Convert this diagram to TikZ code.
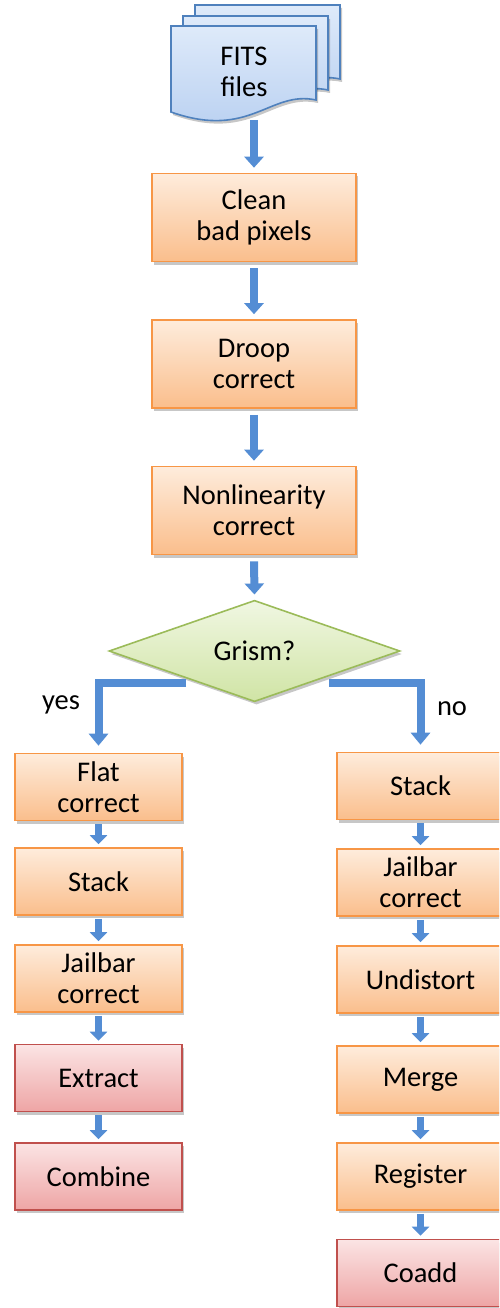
\documentclass[tikz,border=0pt]{standalone}
\usepackage{fontspec}
\setmainfont{Carlito}
\usetikzlibrary{arrows.meta,shapes.geometric,shadows}
\definecolor{orgB}{RGB}{247,150,70}
\definecolor{orgT}{RGB}{254,236,220}
\definecolor{orgD}{RGB}{250,190,140}
\definecolor{redB}{RGB}{192,80,77}
\definecolor{redT}{RGB}{251,228,228}
\definecolor{redD}{RGB}{238,165,165}
\definecolor{grnB}{RGB}{155,187,89}
\definecolor{grnT}{RGB}{240,247,226}
\definecolor{grnD}{RGB}{208,228,165}
\definecolor{bluB}{RGB}{79,129,189}
\definecolor{bluT}{RGB}{222,234,250}
\definecolor{bluD}{RGB}{182,206,240}
\definecolor{arrC}{RGB}{84,141,212}
\tikzset{
  shd/.style={drop shadow={shadow xshift=2pt,shadow yshift=-3pt,opacity=.22,fill=black}},
  txt/.style={font=\fontsize{28.5}{31}\selectfont, align=center, text=black},
  mainbox/.style={txt, rectangle, draw=orgB, line width=1.6pt, top color=orgT, bottom color=orgD, minimum width=204pt, minimum height=88pt, inner sep=0pt, shd},
  colbox/.style={txt, rectangle, draw=orgB, line width=1.6pt, top color=orgT, bottom color=orgD, minimum width=167pt, minimum height=67pt, inner sep=0pt, shd},
  endbox/.style={txt, rectangle, draw=redB, line width=1.6pt, top color=redT, bottom color=redD, minimum width=167pt, minimum height=67pt, inner sep=0pt, shd},
  decision/.style={txt, diamond, draw=grnB, line width=1.6pt, top color=grnT, bottom color=grnD, minimum width=291pt, minimum height=90pt, inner sep=0pt, shd},
  docpath/.style={draw=bluB, line width=1.6pt, top color=bluT, bottom color=bluD, shd},
  bigarrow/.style={draw=arrC, line width=8pt, -{Triangle[width=19pt,length=11pt]}, shorten >=5pt, shorten <=6pt},
  smallarrow/.style={draw=arrC, line width=7pt, -{Triangle[width=17pt,length=9pt]}, shorten >=3pt, shorten <=3pt},
  brancharrow/.style={draw=arrC, line width=8pt, line join=miter, -{Triangle[width=19pt,length=12pt]}, shorten >=7pt},
  lbl/.style={font=\fontsize{28.5}{31}\selectfont, text=black}
}
\begin{document}
\begin{tikzpicture}[x=1pt,y=-1pt]
\useasboundingbox (0,0) rectangle (499,1308);
\clip (0,0) rectangle (499,1308);
% stacked documents
\path[docpath] (195,5) -- (340,5) -- (340,79) .. controls (294,69) and (274,119) .. (195,91) -- cycle;
\path[docpath] (183,16) -- (328,16) -- (328,90) .. controls (282,80) and (262,130) .. (183,102) -- cycle;
\path[docpath] (171,26) -- (316,26) -- (316,100) .. controls (270,90) and (250,140) .. (171,112) -- cycle;
\node[txt] (fits) at (244,72) {FITS\\files};
\coordinate (docb) at (254,114);

\node[mainbox] (clean) at (254,217.5) {Clean\\bad pixels};
\node[mainbox] (droop) at (254,364) {Droop\\correct};
\node[mainbox] (nonlin) at (254,510.5) {Nonlinearity\\correct};
\node[decision] (grism) at (254.5,651) {Grism?};

\draw[bigarrow] (docb) -- (clean.north);
\draw[bigarrow] (clean.south) -- (droop.north);
\draw[bigarrow] (droop.south) -- (nonlin.north);
\draw[bigarrow] (nonlin.south) -- (grism.north);

% left column
\node[colbox] (flat) at (98.5,787) {Flat\\correct};
\node[colbox] (lstack) at (98.5,881.5) {Stack};
\node[colbox] (ljail) at (98.5,978.5) {Jailbar\\correct};
\node[endbox] (extract) at (98.5,1078) {Extract};
\node[endbox] (combine) at (98.5,1176.5) {Combine};

% right column
\node[colbox] (rstack) at (420.5,786) {Stack};
\node[colbox] (rjail) at (420.5,882.5) {Jailbar\\correct};
\node[colbox] (undist) at (420.5,979.5) {Undistort};
\node[colbox] (merge) at (420.5,1079.5) {Merge};
\node[colbox] (register) at (420.5,1176.5) {Register};
\node[endbox] (coadd) at (420.5,1273) {Coadd};

% branches
\coordinate (gl) at (186,683);
\coordinate (gr) at (329,683);
\draw[brancharrow] (gl) -| (flat.north);
\draw[brancharrow] (gr) -| (rstack.north);
\node[lbl] (yes) at (61,705) {yes};
\node[lbl] (no) at (452,709) {no};

\draw[smallarrow] (flat.south) -- (lstack.north);
\draw[smallarrow] (lstack.south) -- (ljail.north);
\draw[smallarrow] (ljail.south) -- (extract.north);
\draw[smallarrow] (extract.south) -- (combine.north);

\draw[smallarrow] (rstack.south) -- (rjail.north);
\draw[smallarrow] (rjail.south) -- (undist.north);
\draw[smallarrow] (undist.south) -- (merge.north);
\draw[smallarrow] (merge.south) -- (register.north);
\draw[smallarrow] (register.south) -- (coadd.north);
\end{tikzpicture}
\end{document}
